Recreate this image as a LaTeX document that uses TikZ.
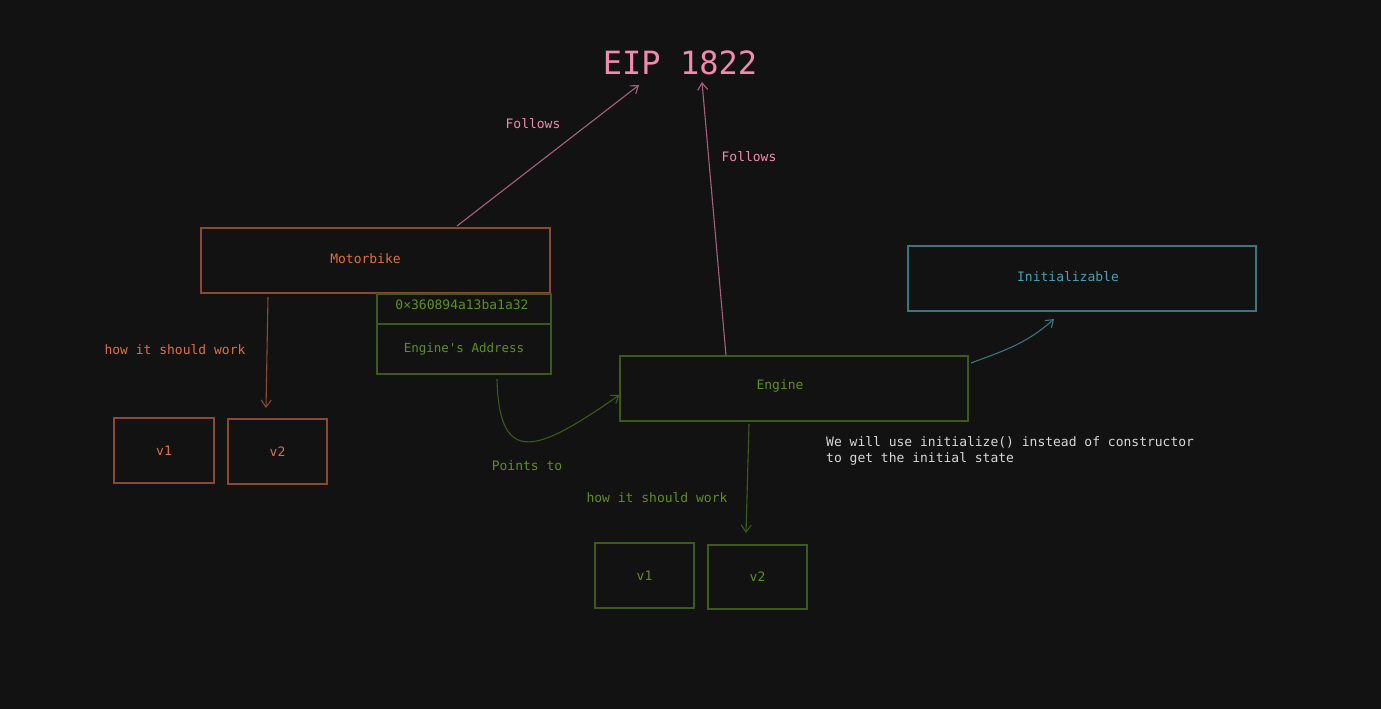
\documentclass[tikz,border=0pt]{standalone}
\usepackage{fontspec}
\setmainfont{DejaVu Sans Mono}
\setmonofont{DejaVu Sans Mono}
\usetikzlibrary{arrows.meta}
\definecolor{bg}{HTML}{121212}
\definecolor{orstroke}{HTML}{8A4A32}
\definecolor{ortext}{HTML}{E07040}
\definecolor{grstroke}{HTML}{3D5A1A}
\definecolor{grtext}{HTML}{5F8F22}
\definecolor{pinktext}{HTML}{F08AAE}
\definecolor{pinkline}{HTML}{A86080}
\definecolor{tlstroke}{HTML}{3A7580}
\definecolor{tltext}{HTML}{4AA0B0}
\definecolor{wtext}{HTML}{D8D8D8}
\tikzset{
  box/.style={draw, line width=1.1pt, fill=bg, inner sep=0pt, font=\fontsize{13}{15}\selectfont},
  lbl/.style={font=\fontsize{13}{15}\selectfont, inner sep=0pt},
  arr/.style={line width=1.1pt, -{Straight Barb[length=7pt,width=10pt]}},
}
\begin{document}
\begin{tikzpicture}[x=1pt,y=-1pt]
\fill[bg] (0,0) rectangle (1381,709);
\useasboundingbox (0,0) rectangle (1381,709);

% title
\node[lbl, text=pinktext, font=\fontsize{32}{36}\selectfont] (eip) at (680,63) {EIP 1822};
\coordinate (eipL) at (639,85);
\coordinate (eipR) at (702,82);

% Motorbike
\node[box, draw=orstroke, minimum width=349pt, minimum height=65pt,
  label={[lbl, text=ortext, xshift=-10pt, yshift=2pt]center:Motorbike}] (moto) at (375.5,260.5) {};
\node[box, draw=grstroke, text=grtext, minimum width=174pt, minimum height=30pt,
  label={[lbl, text=grtext, xshift=-2pt, yshift=4pt]center:0×360894a13ba1a32}] (addr) at (464,309) {};
\node[box, draw=grstroke, minimum width=174pt, minimum height=50pt,
  label={[lbl, text=grtext, font=\fontsize{12.5}{15}\selectfont]center:Engine\textquotesingle s Address}] (eaddr) at (464,349) {};

% Engine
\node[box, draw=grstroke, minimum width=348pt, minimum height=65pt,
  label={[lbl, text=grtext, xshift=-14pt, yshift=3pt]center:Engine}] (engine) at (794,388.5) {};

% Initializable
\node[box, draw=tlstroke, minimum width=348pt, minimum height=65pt,
  label={[lbl, text=tltext, xshift=-14pt, yshift=2pt]center:Initializable}] (init) at (1082,278.5) {};

% versions left
\node[box, draw=orstroke, text=ortext, minimum width=100pt, minimum height=65pt] (v1a) at (164,450.5) {v1};
\node[box, draw=orstroke, text=ortext, minimum width=99pt, minimum height=65pt] (v2a) at (277.5,451.5) {v2};

% versions right
\node[box, draw=grstroke, text=grtext, minimum width=99pt, minimum height=65pt] (v1b) at (644.5,575.5) {v1};
\node[box, draw=grstroke, text=grtext, minimum width=99pt, minimum height=64pt] (v2b) at (757.5,577) {v2};

% arrows to EIP
\draw[arr, pinkline] (457,226) -- (eipL);
\node[lbl, text=pinktext] (fol1) at (533,124) {Follows};
\draw[arr, pinkline] ([xshift=-68pt]engine.north) -- (eipR);
\node[lbl, text=pinktext] (fol2) at (749,157) {Follows};

% motorbike down
\coordinate (mdown) at (266,408);
\draw[arr, orstroke] (268,297) -- (mdown);
\node[lbl, text=ortext] (how1) at (175,350) {how it should work};

% engine down
\coordinate (edown) at (746,533);
\draw[arr, grstroke] (749,424) -- (edown);
\node[lbl, text=grtext] (how2) at (657,498) {how it should work};

% points to
\draw[arr, grstroke] (497,379) .. controls (499,470) and (540,450) .. (engine.west |- 0,395);
\node[lbl, text=grtext] (pts) at (527,466) {Points to};

% initializable arrow
\draw[arr, tlstroke] (971,363) .. controls (1000,352) and (1025,345) .. (1054,319);

% comment
\node[lbl, text=wtext, anchor=north west, align=left, font=\fontsize{13}{16}\selectfont] (cmt) at (826,436) {We will use initialize() instead of constructor\\to get the initial state};
\end{tikzpicture}
\end{document}
